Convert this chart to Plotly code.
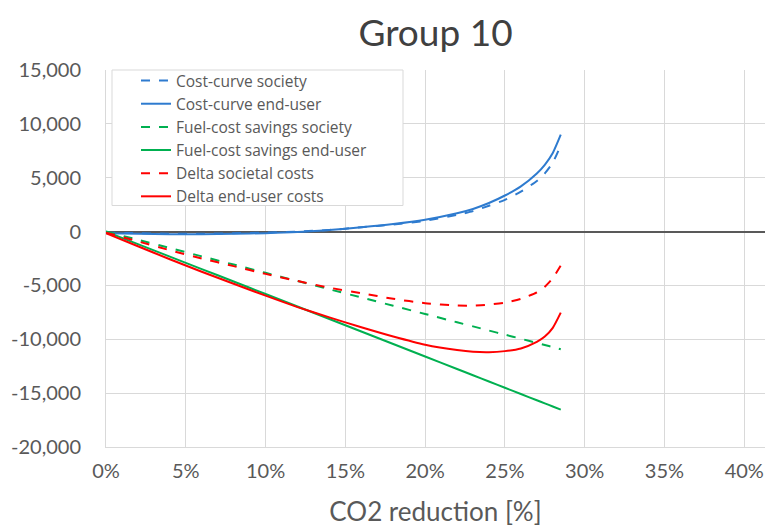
import plotly.graph_objects as go

x_pct = [0, 2, 4, 6, 8, 10, 12, 14, 16, 18, 20, 22, 23, 24, 25, 26, 27, 27.5, 28, 28.5]

cost_society = [-100, -150, -200, -200, -150, -100, 0, 150, 400, 650, 1000, 1550, 1900, 2400, 2950, 3700, 4700, 5400, 6400, 8000]
cost_enduser = [-150, -200, -250, -250, -200, -150, -50, 150, 400, 700, 1100, 1700, 2100, 2650, 3350, 4200, 5400, 6200, 7300, 9000]
fuel_society = [0, -760, -1530, -2300, -3060, -3830, -4590, -5360, -6120, -6890, -7650, -8420, -8800, -9190, -9570, -9950, -10340, -10530, -10720, -10920]
fuel_enduser = [0, -1160, -2320, -3480, -4640, -5800, -6960, -8120, -9280, -10440, -11600, -12760, -13340, -13920, -14500, -15080, -15660, -15950, -16240, -16530]
delta_society = [-100, -910, -1730, -2500, -3210, -3930, -4590, -5210, -5720, -6240, -6650, -6870, -6880, -6780, -6600, -6250, -5640, -5130, -4320, -3150]
delta_enduser = [-150, -1360, -2570, -3730, -4840, -5950, -7010, -7970, -8880, -9740, -10500, -11000, -11160, -11200, -11100, -10850, -10240, -9750, -8940, -7530]

x_ticks = [0, 0.05, 0.10, 0.15, 0.20, 0.25, 0.30, 0.35, 0.40]
y_ticks = [-20000, -15000, -10000, -5000, 0, 5000, 10000, 15000]

BLUE = "#2E7BCF"
GREEN = "#00B050"
RED = "#FF0000"

x = [v / 100 for v in x_pct]

series = [
    ("Cost-curve society", cost_society, BLUE, "dash"),
    ("Cost-curve end-user", cost_enduser, BLUE, "solid"),
    ("Fuel-cost savings society", fuel_society, GREEN, "dash"),
    ("Fuel-cost savings end-user", fuel_enduser, GREEN, "solid"),
    ("Delta societal costs", delta_society, RED, "dash"),
    ("Delta end-user costs", delta_enduser, RED, "solid"),
]

fig = go.Figure()
for name, ys, col, dash in series:
    fig.add_trace(go.Scatter(
        x=x, y=ys, name=name, mode="lines",
        line=dict(color=col, width=2, dash=dash, shape="spline", smoothing=0.6),
    ))

FONT = "Lato, Open Sans, sans-serif"
TXT = "#595959"

# plot area in pixels: x 106..765, y 70..447
PL, PR, PT, PB = 106, 765, 70, 447
W, H = PR - PL, PB - PT

def px_x(p):
    return (p - PL) / W

def px_y(p):
    return (PB - p) / H

fig.add_shape(type="rect", xref="paper", yref="paper",
              x0=px_x(112), x1=px_x(403), y0=px_y(205.5), y1=px_y(70),
              line=dict(color="#D9D9D9", width=1), fillcolor="white", layer="above")

fig.update_layout(
    width=765, height=529,
    margin=dict(l=PL, r=765 - PR, t=PT, b=529 - PB),
    paper_bgcolor="white", plot_bgcolor="white",
    font=dict(family=FONT, color=TXT, size=20),
    title=dict(text="Group 10", x=0.5, xref="paper", y=1 - 33 / 529, yanchor="middle",
               font=dict(size=37, color="#404040", family=FONT)),
    showlegend=True,
    legend=dict(
        x=px_x(136), y=px_y(64), xanchor="left", yanchor="top",
        bgcolor="rgba(255,255,255,0)", borderwidth=0,
        font=dict(size=15.5, color=TXT, family="Open Sans, Lato, sans-serif"),
        tracegroupgap=0, itemwidth=30,
    ),
)

fig.update_xaxes(
    range=[0, 0.413], tickvals=x_ticks, tickformat=".0%",
    showgrid=True, gridcolor="#D9D9D9", gridwidth=1,
    zeroline=False, showline=True, linecolor="#D9D9D9", linewidth=1,
    ticks="", ticklabelstandoff=6, tickfont=dict(size=20, color=TXT),
    title=dict(text="CO2 reduction [%]", font=dict(size=26, color=TXT), standoff=21),
)
fig.update_yaxes(
    range=[-20000, 15000], tickvals=y_ticks, ticktext=[f"{v:,}" for v in y_ticks],
    showgrid=True, gridcolor="#D9D9D9", gridwidth=1,
    zeroline=True, zerolinecolor="#595959", zerolinewidth=2,
    showline=True, linecolor="#D9D9D9", linewidth=1,
    ticks="", ticklabelstandoff=20,
    tickfont=dict(size=20, color=TXT),
)

fig.write_html("out.html")
